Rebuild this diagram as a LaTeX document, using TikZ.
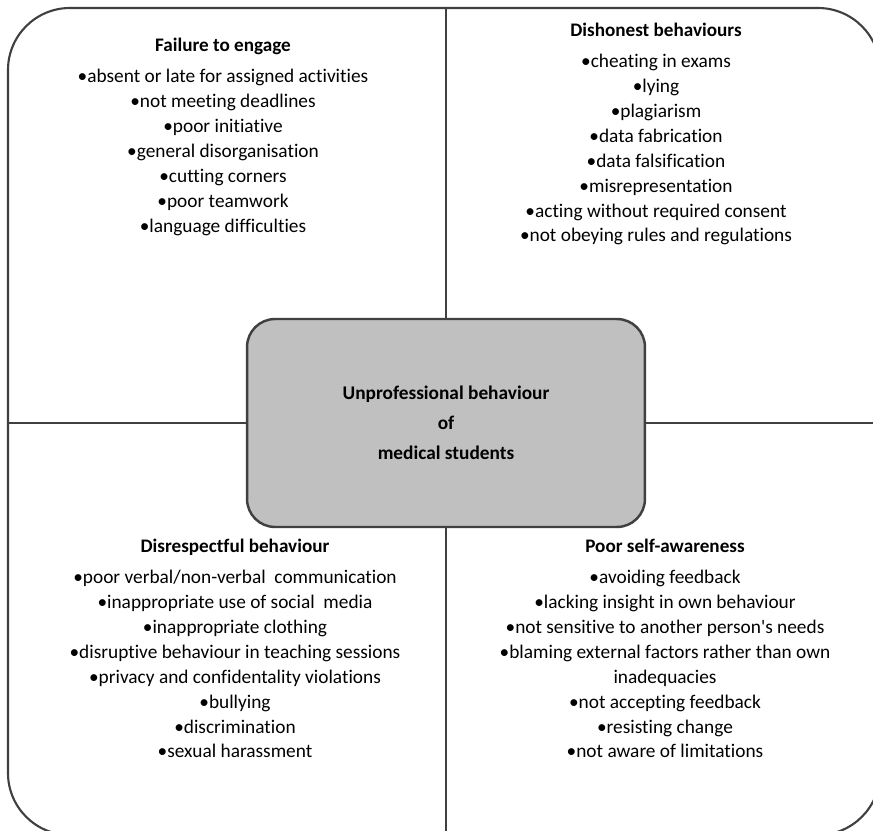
\documentclass[tikz,border=0pt]{standalone}
\usepackage{fontspec}
\setmainfont{Carlito}[Ligatures={NoCommon}]
\usetikzlibrary{positioning}
\definecolor{framegray}{HTML}{404040}
\definecolor{coregray}{HTML}{C0C0C0}

\begin{document}
\begin{tikzpicture}[x=0.02cm, y=-0.02cm,
  frame/.style={draw=framegray, line width=1.2pt},
  core/.style={
    rectangle, rounded corners=0.56cm,
    draw=framegray, fill=coregray, line width=1.4pt,
    minimum width=7.96cm, minimum height=4.16cm,
    align=center, font=\fontsize{11}{17}\selectfont\bfseries},
  head/.style={font=\fontsize{10.9}{14}\selectfont\bfseries, inner sep=0pt,
    text height=8pt, text depth=2.5pt},
  items/.style={align=center, font=\fontsize{11}{14.2}\selectfont, inner sep=0pt},
]
  \useasboundingbox (0,0) rectangle (873,831);
  \clip (0,0) rectangle (873,831);

  % outer frame, cut at right and bottom
  \draw[frame, rounded corners=1.24cm] (8,8) rectangle (880,835);

  \node[core] (core) at (446,423) {Unprofessional behaviour\\of\\medical students};

  \coordinate (ntop) at (446,8);
  \coordinate (nbot) at (446,835);
  \coordinate (wleft) at (8,423);
  \coordinate (eright) at (880,423);
  \draw[frame] (core.north) -- (ntop);
  \draw[frame] (core.south) -- (nbot);
  \draw[frame] (core.west) -- (wleft);
  \draw[frame] (core.east) -- (eright);

  % quadrants
  \node[head] (engage) at (223,47) {Failure to engage};
  \node[items, below=0.24cm of engage] (engagelist) {•absent or late for assigned activities\\•not meeting deadlines\\•poor initiative\\•general disorganisation\\•cutting corners\\•poor teamwork\\•language difficulties};

  \node[head] (dishon) at (656,32) {Dishonest behaviours};
  \node[items, below=0.24cm of dishon] (dishonlist) {•cheating in exams\\•lying\\•plagiarism\\•data fabrication\\•data falsification\\•misrepresentation\\•acting without required consent\\•not obeying rules and regulations};

  \node[head] (disresp) at (235,548) {Disrespectful behaviour};
  \node[items, below=0.24cm of disresp] (disresplist) {•poor verbal/non-verbal\ \ communication\\•inappropriate use of social\ \ media\\•inappropriate clothing\\•disruptive behaviour in teaching sessions\\•privacy and confidentality violations\\•bullying\\•discrimination\\•sexual harassment};

  \node[head] (aware) at (665,548) {Poor self-awareness};
  \node[items, below=0.24cm of aware] (awarelist) {•avoiding feedback\\•lacking insight in own behaviour\\•not sensitive to another person\textquotesingle s needs\\•blaming external factors rather than own\\inadequacies\\•not accepting feedback\\•resisting change\\•not aware of limitations};
\end{tikzpicture}
\end{document}
